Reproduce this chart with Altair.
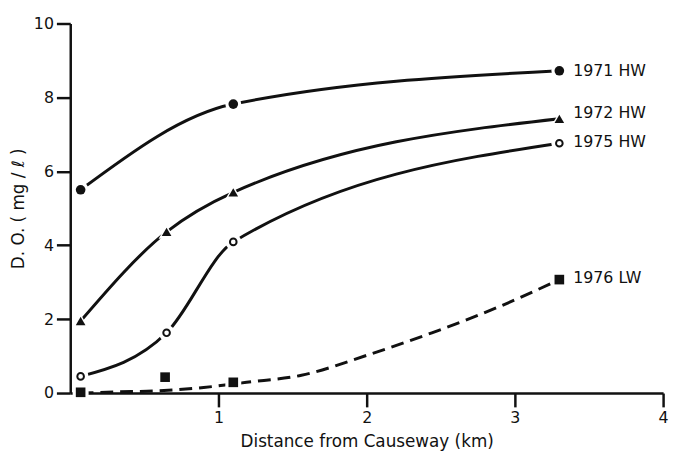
import altair as alt
import pandas as pd

# ---- data ----
series = ["1971 HW", "1972 HW", "1975 HW", "1976 LW"]
x_1971 = [0.07, 1.10, 3.30]
y_1971 = [5.50, 7.82, 8.72]
x_1972 = [0.07, 0.65, 1.10, 3.30]
y_1972 = [1.95, 4.36, 5.43, 7.42]
x_1975 = [0.07, 0.65, 1.10, 3.30]
y_1975 = [0.45, 1.63, 4.09, 6.76]
x_1976 = [0.07, 0.64, 1.10, 3.30]
y_1976 = [0.02, 0.43, 0.29, 3.07]
# fitted (dashed) curve for 1976 LW
curve_x_1976 = [0.07, 0.30, 0.60, 0.90, 1.19, 1.56, 2.00, 2.44, 2.89, 3.30]
curve_y_1976 = [0.00, 0.03, 0.06, 0.15, 0.29, 0.48, 1.02, 1.63, 2.33, 3.07]
# vertical position of the right-hand labels
label_y = [8.72, 7.58, 6.80, 3.10]
x_ticks = [1, 2, 3, 4]
y_ticks = [0, 2, 4, 6, 8, 10]

xs = {"1971 HW": x_1971, "1972 HW": x_1972, "1975 HW": x_1975, "1976 LW": x_1976}
ys = {"1971 HW": y_1971, "1972 HW": y_1972, "1975 HW": y_1975, "1976 LW": y_1976}
shapes = {"1971 HW": "circle", "1972 HW": "triangle-up", "1975 HW": "circle", "1976 LW": "square"}

FONT = "DejaVu Sans"
INK = "#111111"

xscale = alt.Scale(domain=[0, 4], nice=False, zero=False)
yscale = alt.Scale(domain=[0, 10], nice=False)

xenc = alt.X("x:Q", scale=xscale,
             axis=alt.Axis(values=x_ticks, title="Distance from Causeway (km)", format="d"))
yenc = alt.Y("y:Q", scale=yscale,
             axis=alt.Axis(values=y_ticks, title="D. O. ( mg / ℓ )", format="d"))

layers = []

# solid smooth curves through HW points
for s in series[:3]:
    df = pd.DataFrame({"x": xs[s], "y": ys[s]})
    layers.append(
        alt.Chart(df).mark_line(color=INK, strokeWidth=3, interpolate="monotone")
        .encode(x=xenc, y=yenc)
    )

# dashed fitted curve for 1976 LW
dfc = pd.DataFrame({"x": curve_x_1976, "y": curve_y_1976})
layers.append(
    alt.Chart(dfc).mark_line(color=INK, strokeWidth=3, strokeDash=[13, 7], interpolate="monotone")
    .encode(x=xenc, y=yenc)
)

# markers with white halo
for s in series:
    df = pd.DataFrame({"x": xs[s], "y": ys[s]})
    layers.append(
        alt.Chart(df).mark_point(shape=shapes[s], filled=True, color="white", size=260, opacity=1)
        .encode(x=xenc, y=yenc)
    )
    if s == "1975 HW":
        layers.append(
            alt.Chart(df).mark_point(shape="circle", filled=False, stroke=INK, strokeWidth=2,
                                     fill="white", size=45, opacity=1)
            .encode(x=xenc, y=yenc)
        )
    else:
        layers.append(
            alt.Chart(df).mark_point(shape=shapes[s], filled=True, color=INK, size=95, opacity=1)
            .encode(x=xenc, y=yenc)
        )

# right-hand labels
lab = pd.DataFrame({"series": series, "x": [x[-1] for x in [x_1971, x_1972, x_1975, x_1976]],
                    "y": label_y})
layers.append(
    alt.Chart(lab).mark_text(align="left", baseline="middle", dx=14, fontSize=16, font=FONT,
                             color=INK)
    .encode(x=xenc, y=yenc, text="series:N")
)

chart = (
    alt.layer(*layers)
    .properties(width=600, height=374, autosize=alt.AutoSizeParams(type="none"),
                padding={"left": 63, "top": 13, "right": 8, "bottom": 59},
                background="white")
    .configure_view(stroke=None)
    .configure_axis(
        grid=False, domainColor=INK, domainWidth=2.5, tickColor=INK, tickWidth=2.5,
        tickSize=14, labelFont=FONT, labelFontSize=16, labelColor=INK, labelPadding=3,
        titleFont=FONT, titleFontSize=17, titleFontWeight="normal", titleColor=INK,
        zindex=1,
    )
    .configure_axisX(titlePadding=8, labelFlush=False)
    .configure_axisY(titlePadding=6, labelFlush=False)
)

chart.save("out.html", embed_options={"renderer": "svg", "actions": False})
